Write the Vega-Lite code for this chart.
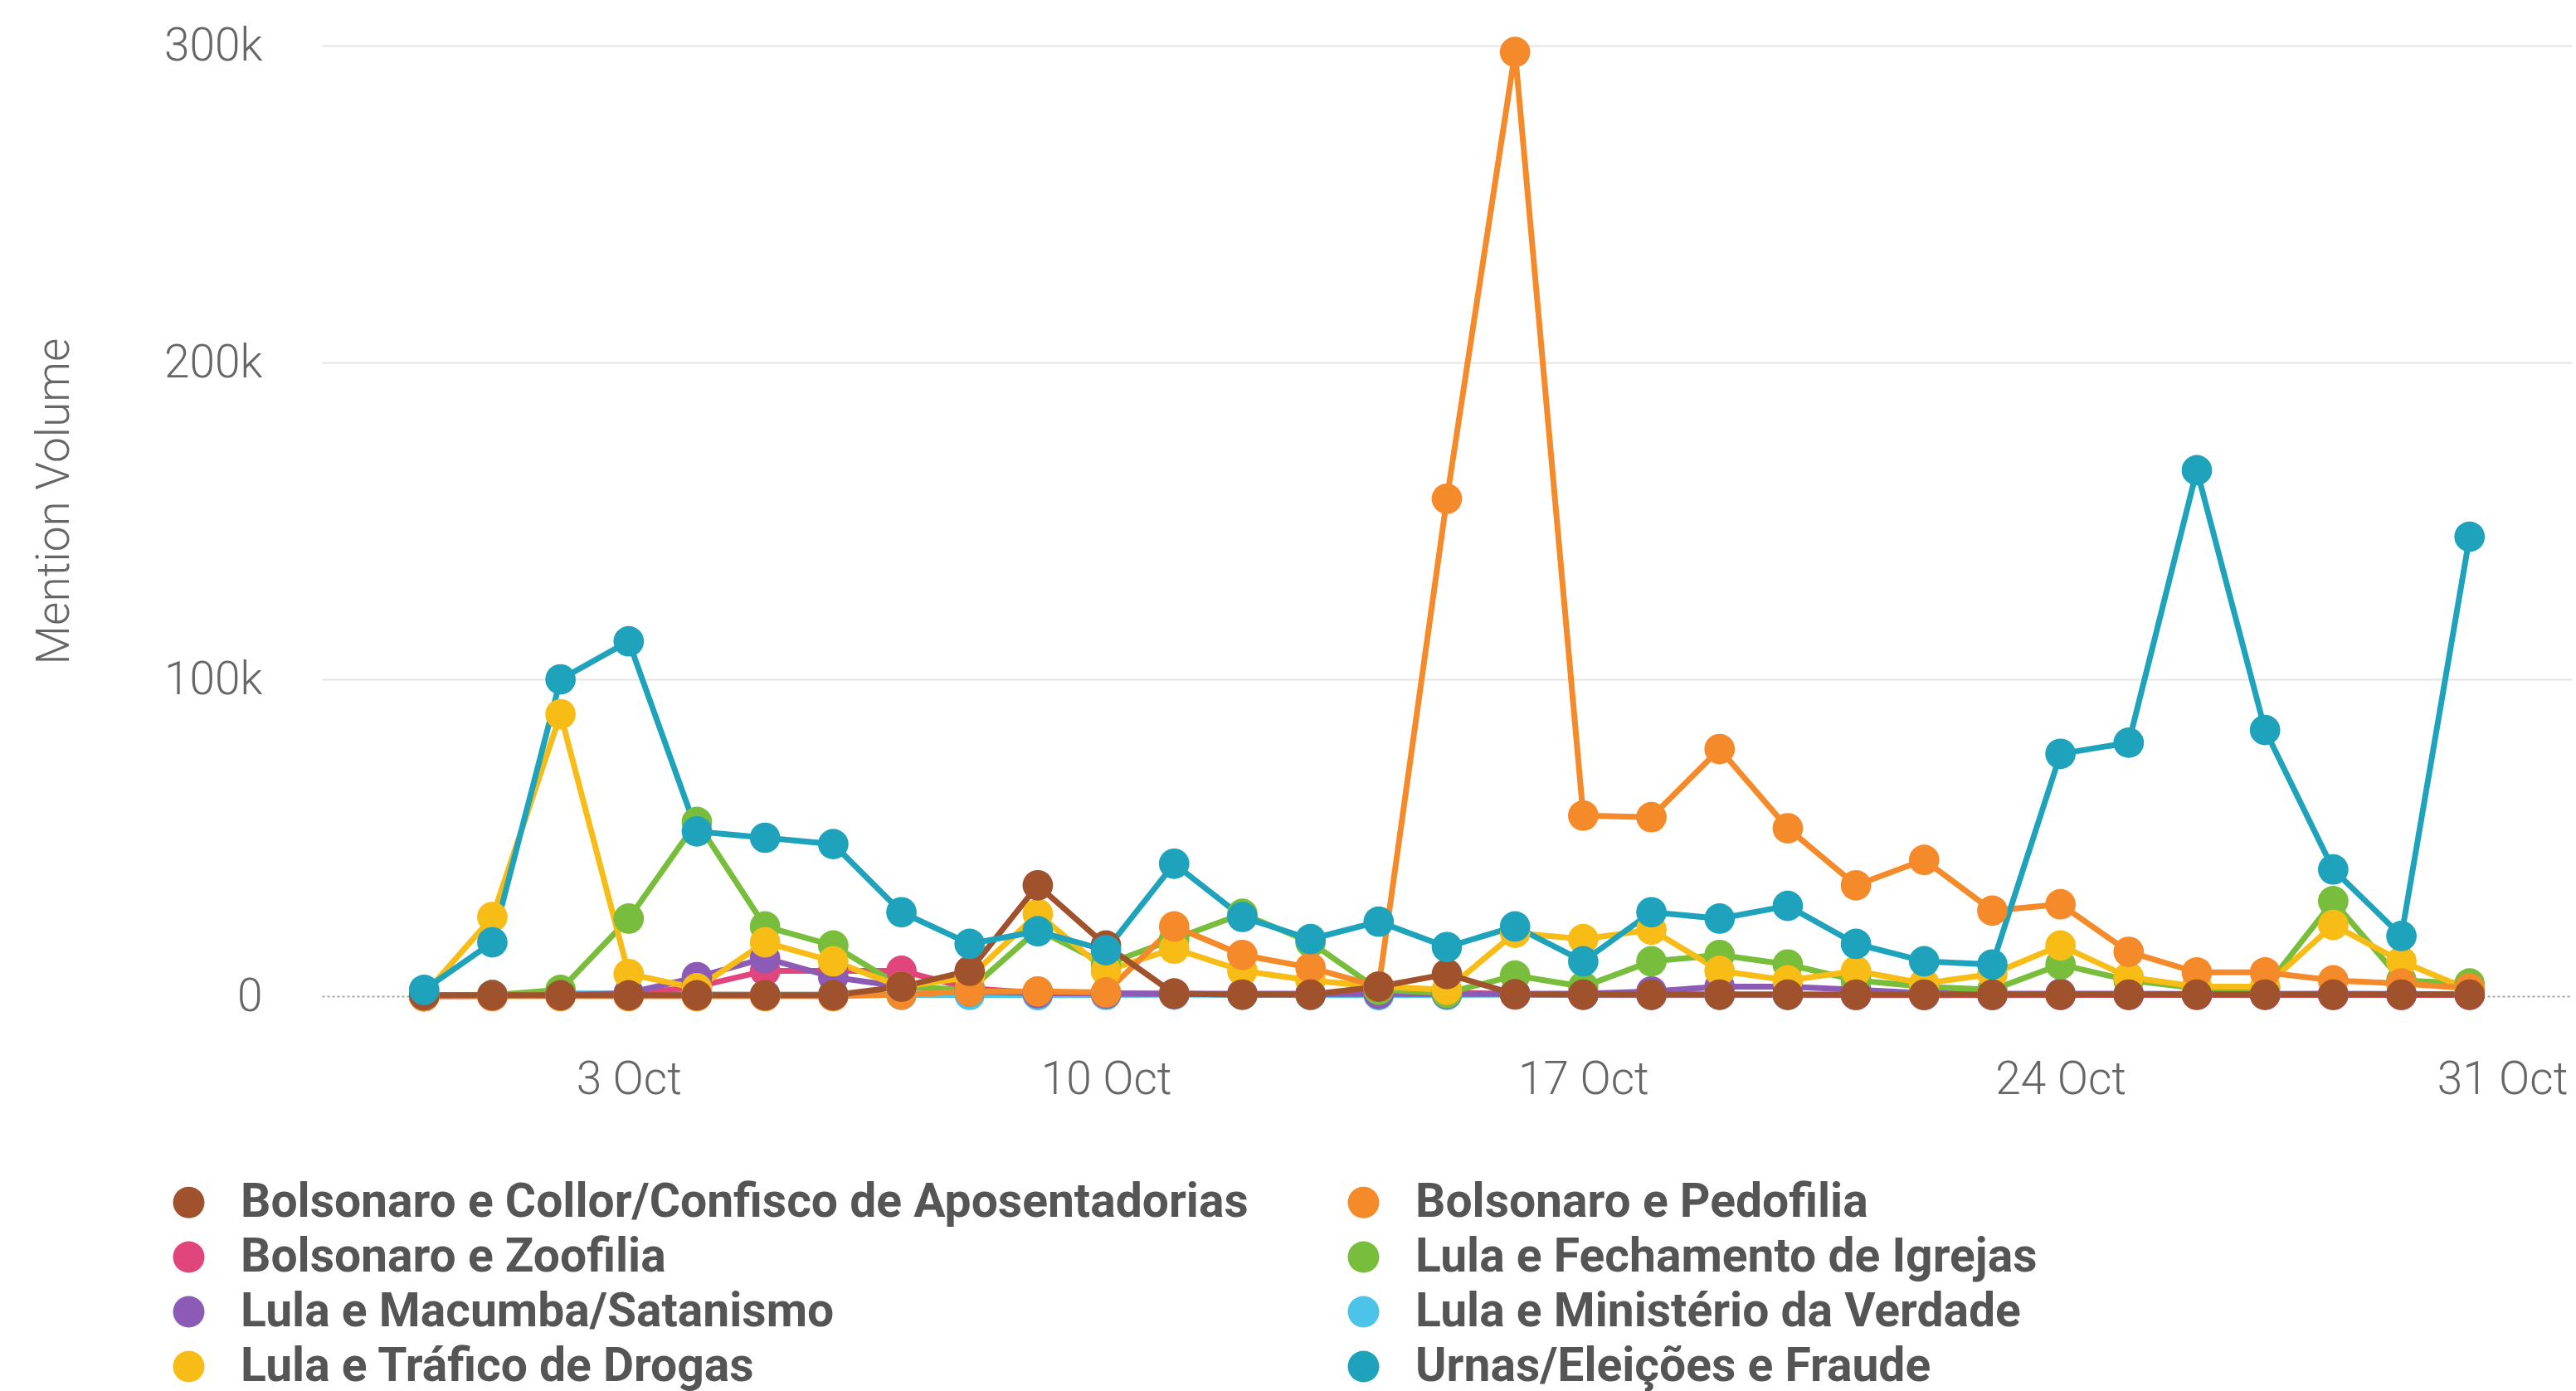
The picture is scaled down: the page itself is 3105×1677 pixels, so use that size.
{
 "$schema": "https://vega.github.io/schema/vega-lite/v6.json",
 "width": 2712,
 "height": 1146,
 "autosize": {"type": "none"},
 "padding": {"left": 388, "top": 55, "right": 5, "bottom": 476},
 "background": "white",
 "config": {"view": {"stroke": null}, "font": "Roboto"},
 "data": {"values": [
{"date":"2022-09-30","topic":"Lula e Ministério da Verdade","mentions":300},
{"date":"2022-10-01","topic":"Lula e Ministério da Verdade","mentions":400},
{"date":"2022-10-02","topic":"Lula e Ministério da Verdade","mentions":900},
{"date":"2022-10-03","topic":"Lula e Ministério da Verdade","mentions":800},
{"date":"2022-10-04","topic":"Lula e Ministério da Verdade","mentions":600},
{"date":"2022-10-05","topic":"Lula e Ministério da Verdade","mentions":500},
{"date":"2022-10-06","topic":"Lula e Ministério da Verdade","mentions":500},
{"date":"2022-10-07","topic":"Lula e Ministério da Verdade","mentions":400},
{"date":"2022-10-08","topic":"Lula e Ministério da Verdade","mentions":400},
{"date":"2022-10-09","topic":"Lula e Ministério da Verdade","mentions":300},
{"date":"2022-10-10","topic":"Lula e Ministério da Verdade","mentions":400},
{"date":"2022-10-11","topic":"Lula e Ministério da Verdade","mentions":500},
{"date":"2022-10-12","topic":"Lula e Ministério da Verdade","mentions":400},
{"date":"2022-10-13","topic":"Lula e Ministério da Verdade","mentions":300},
{"date":"2022-10-14","topic":"Lula e Ministério da Verdade","mentions":300},
{"date":"2022-10-15","topic":"Lula e Ministério da Verdade","mentions":400},
{"date":"2022-10-16","topic":"Lula e Ministério da Verdade","mentions":500},
{"date":"2022-10-17","topic":"Lula e Ministério da Verdade","mentions":400},
{"date":"2022-10-18","topic":"Lula e Ministério da Verdade","mentions":300},
{"date":"2022-10-19","topic":"Lula e Ministério da Verdade","mentions":400},
{"date":"2022-10-20","topic":"Lula e Ministério da Verdade","mentions":300},
{"date":"2022-10-21","topic":"Lula e Ministério da Verdade","mentions":300},
{"date":"2022-10-22","topic":"Lula e Ministério da Verdade","mentions":300},
{"date":"2022-10-23","topic":"Lula e Ministério da Verdade","mentions":300},
{"date":"2022-10-24","topic":"Lula e Ministério da Verdade","mentions":400},
{"date":"2022-10-25","topic":"Lula e Ministério da Verdade","mentions":400},
{"date":"2022-10-26","topic":"Lula e Ministério da Verdade","mentions":600},
{"date":"2022-10-27","topic":"Lula e Ministério da Verdade","mentions":500},
{"date":"2022-10-28","topic":"Lula e Ministério da Verdade","mentions":400},
{"date":"2022-10-29","topic":"Lula e Ministério da Verdade","mentions":400},
{"date":"2022-10-30","topic":"Lula e Ministério da Verdade","mentions":500},
{"date":"2022-09-30","topic":"Bolsonaro e Zoofilia","mentions":0},
{"date":"2022-10-01","topic":"Bolsonaro e Zoofilia","mentions":100},
{"date":"2022-10-02","topic":"Bolsonaro e Zoofilia","mentions":300},
{"date":"2022-10-03","topic":"Bolsonaro e Zoofilia","mentions":500},
{"date":"2022-10-04","topic":"Bolsonaro e Zoofilia","mentions":3000},
{"date":"2022-10-05","topic":"Bolsonaro e Zoofilia","mentions":8000},
{"date":"2022-10-06","topic":"Bolsonaro e Zoofilia","mentions":8000},
{"date":"2022-10-07","topic":"Bolsonaro e Zoofilia","mentions":8000},
{"date":"2022-10-08","topic":"Bolsonaro e Zoofilia","mentions":2500},
{"date":"2022-10-09","topic":"Bolsonaro e Zoofilia","mentions":1000},
{"date":"2022-10-10","topic":"Bolsonaro e Zoofilia","mentions":800},
{"date":"2022-10-11","topic":"Bolsonaro e Zoofilia","mentions":700},
{"date":"2022-10-12","topic":"Bolsonaro e Zoofilia","mentions":600},
{"date":"2022-10-13","topic":"Bolsonaro e Zoofilia","mentions":600},
{"date":"2022-10-14","topic":"Bolsonaro e Zoofilia","mentions":1000},
{"date":"2022-10-15","topic":"Bolsonaro e Zoofilia","mentions":1200},
{"date":"2022-10-16","topic":"Bolsonaro e Zoofilia","mentions":600},
{"date":"2022-10-17","topic":"Bolsonaro e Zoofilia","mentions":500},
{"date":"2022-10-18","topic":"Bolsonaro e Zoofilia","mentions":500},
{"date":"2022-10-19","topic":"Bolsonaro e Zoofilia","mentions":500},
{"date":"2022-10-20","topic":"Bolsonaro e Zoofilia","mentions":500},
{"date":"2022-10-21","topic":"Bolsonaro e Zoofilia","mentions":400},
{"date":"2022-10-22","topic":"Bolsonaro e Zoofilia","mentions":400},
{"date":"2022-10-23","topic":"Bolsonaro e Zoofilia","mentions":400},
{"date":"2022-10-24","topic":"Bolsonaro e Zoofilia","mentions":400},
{"date":"2022-10-25","topic":"Bolsonaro e Zoofilia","mentions":400},
{"date":"2022-10-26","topic":"Bolsonaro e Zoofilia","mentions":400},
{"date":"2022-10-27","topic":"Bolsonaro e Zoofilia","mentions":400},
{"date":"2022-10-28","topic":"Bolsonaro e Zoofilia","mentions":400},
{"date":"2022-10-29","topic":"Bolsonaro e Zoofilia","mentions":400},
{"date":"2022-10-30","topic":"Bolsonaro e Zoofilia","mentions":400},
{"date":"2022-09-30","topic":"Lula e Macumba/Satanismo","mentions":0},
{"date":"2022-10-01","topic":"Lula e Macumba/Satanismo","mentions":100},
{"date":"2022-10-02","topic":"Lula e Macumba/Satanismo","mentions":300},
{"date":"2022-10-03","topic":"Lula e Macumba/Satanismo","mentions":1000},
{"date":"2022-10-04","topic":"Lula e Macumba/Satanismo","mentions":6000},
{"date":"2022-10-05","topic":"Lula e Macumba/Satanismo","mentions":12000},
{"date":"2022-10-06","topic":"Lula e Macumba/Satanismo","mentions":6000},
{"date":"2022-10-07","topic":"Lula e Macumba/Satanismo","mentions":3000},
{"date":"2022-10-08","topic":"Lula e Macumba/Satanismo","mentions":1500},
{"date":"2022-10-09","topic":"Lula e Macumba/Satanismo","mentions":1000},
{"date":"2022-10-10","topic":"Lula e Macumba/Satanismo","mentions":900},
{"date":"2022-10-11","topic":"Lula e Macumba/Satanismo","mentions":800},
{"date":"2022-10-12","topic":"Lula e Macumba/Satanismo","mentions":800},
{"date":"2022-10-13","topic":"Lula e Macumba/Satanismo","mentions":800},
{"date":"2022-10-14","topic":"Lula e Macumba/Satanismo","mentions":700},
{"date":"2022-10-15","topic":"Lula e Macumba/Satanismo","mentions":700},
{"date":"2022-10-16","topic":"Lula e Macumba/Satanismo","mentions":800},
{"date":"2022-10-17","topic":"Lula e Macumba/Satanismo","mentions":800},
{"date":"2022-10-18","topic":"Lula e Macumba/Satanismo","mentions":1500},
{"date":"2022-10-19","topic":"Lula e Macumba/Satanismo","mentions":3000},
{"date":"2022-10-20","topic":"Lula e Macumba/Satanismo","mentions":3000},
{"date":"2022-10-21","topic":"Lula e Macumba/Satanismo","mentions":2000},
{"date":"2022-10-22","topic":"Lula e Macumba/Satanismo","mentions":1000},
{"date":"2022-10-23","topic":"Lula e Macumba/Satanismo","mentions":800},
{"date":"2022-10-24","topic":"Lula e Macumba/Satanismo","mentions":800},
{"date":"2022-10-25","topic":"Lula e Macumba/Satanismo","mentions":800},
{"date":"2022-10-26","topic":"Lula e Macumba/Satanismo","mentions":700},
{"date":"2022-10-27","topic":"Lula e Macumba/Satanismo","mentions":700},
{"date":"2022-10-28","topic":"Lula e Macumba/Satanismo","mentions":800},
{"date":"2022-10-29","topic":"Lula e Macumba/Satanismo","mentions":700},
{"date":"2022-10-30","topic":"Lula e Macumba/Satanismo","mentions":600},
{"date":"2022-09-30","topic":"Lula e Fechamento de Igrejas","mentions":0},
{"date":"2022-10-01","topic":"Lula e Fechamento de Igrejas","mentions":300},
{"date":"2022-10-02","topic":"Lula e Fechamento de Igrejas","mentions":2000},
{"date":"2022-10-03","topic":"Lula e Fechamento de Igrejas","mentions":24500},
{"date":"2022-10-04","topic":"Lula e Fechamento de Igrejas","mentions":55000},
{"date":"2022-10-05","topic":"Lula e Fechamento de Igrejas","mentions":22000},
{"date":"2022-10-06","topic":"Lula e Fechamento de Igrejas","mentions":16000},
{"date":"2022-10-07","topic":"Lula e Fechamento de Igrejas","mentions":3000},
{"date":"2022-10-08","topic":"Lula e Fechamento de Igrejas","mentions":2000},
{"date":"2022-10-09","topic":"Lula e Fechamento de Igrejas","mentions":21000},
{"date":"2022-10-10","topic":"Lula e Fechamento de Igrejas","mentions":10000},
{"date":"2022-10-11","topic":"Lula e Fechamento de Igrejas","mentions":18000},
{"date":"2022-10-12","topic":"Lula e Fechamento de Igrejas","mentions":26000},
{"date":"2022-10-13","topic":"Lula e Fechamento de Igrejas","mentions":17000},
{"date":"2022-10-14","topic":"Lula e Fechamento de Igrejas","mentions":2000},
{"date":"2022-10-15","topic":"Lula e Fechamento de Igrejas","mentions":1000},
{"date":"2022-10-16","topic":"Lula e Fechamento de Igrejas","mentions":6500},
{"date":"2022-10-17","topic":"Lula e Fechamento de Igrejas","mentions":3000},
{"date":"2022-10-18","topic":"Lula e Fechamento de Igrejas","mentions":11000},
{"date":"2022-10-19","topic":"Lula e Fechamento de Igrejas","mentions":13000},
{"date":"2022-10-20","topic":"Lula e Fechamento de Igrejas","mentions":10000},
{"date":"2022-10-21","topic":"Lula e Fechamento de Igrejas","mentions":5000},
{"date":"2022-10-22","topic":"Lula e Fechamento de Igrejas","mentions":3000},
{"date":"2022-10-23","topic":"Lula e Fechamento de Igrejas","mentions":2000},
{"date":"2022-10-24","topic":"Lula e Fechamento de Igrejas","mentions":10000},
{"date":"2022-10-25","topic":"Lula e Fechamento de Igrejas","mentions":5000},
{"date":"2022-10-26","topic":"Lula e Fechamento de Igrejas","mentions":2500},
{"date":"2022-10-27","topic":"Lula e Fechamento de Igrejas","mentions":2500},
{"date":"2022-10-28","topic":"Lula e Fechamento de Igrejas","mentions":30000},
{"date":"2022-10-29","topic":"Lula e Fechamento de Igrejas","mentions":5000},
{"date":"2022-10-30","topic":"Lula e Fechamento de Igrejas","mentions":4000},
{"date":"2022-09-30","topic":"Lula e Tráfico de Drogas","mentions":500},
{"date":"2022-10-01","topic":"Lula e Tráfico de Drogas","mentions":25000},
{"date":"2022-10-02","topic":"Lula e Tráfico de Drogas","mentions":89000},
{"date":"2022-10-03","topic":"Lula e Tráfico de Drogas","mentions":7000},
{"date":"2022-10-04","topic":"Lula e Tráfico de Drogas","mentions":2500},
{"date":"2022-10-05","topic":"Lula e Tráfico de Drogas","mentions":17000},
{"date":"2022-10-06","topic":"Lula e Tráfico de Drogas","mentions":11000},
{"date":"2022-10-07","topic":"Lula e Tráfico de Drogas","mentions":3000},
{"date":"2022-10-08","topic":"Lula e Tráfico de Drogas","mentions":6000},
{"date":"2022-10-09","topic":"Lula e Tráfico de Drogas","mentions":26000},
{"date":"2022-10-10","topic":"Lula e Tráfico de Drogas","mentions":8000},
{"date":"2022-10-11","topic":"Lula e Tráfico de Drogas","mentions":15000},
{"date":"2022-10-12","topic":"Lula e Tráfico de Drogas","mentions":8000},
{"date":"2022-10-13","topic":"Lula e Tráfico de Drogas","mentions":5000},
{"date":"2022-10-14","topic":"Lula e Tráfico de Drogas","mentions":3000},
{"date":"2022-10-15","topic":"Lula e Tráfico de Drogas","mentions":2000},
{"date":"2022-10-16","topic":"Lula e Tráfico de Drogas","mentions":20000},
{"date":"2022-10-17","topic":"Lula e Tráfico de Drogas","mentions":18000},
{"date":"2022-10-18","topic":"Lula e Tráfico de Drogas","mentions":21000},
{"date":"2022-10-19","topic":"Lula e Tráfico de Drogas","mentions":8000},
{"date":"2022-10-20","topic":"Lula e Tráfico de Drogas","mentions":5000},
{"date":"2022-10-21","topic":"Lula e Tráfico de Drogas","mentions":8000},
{"date":"2022-10-22","topic":"Lula e Tráfico de Drogas","mentions":4000},
{"date":"2022-10-23","topic":"Lula e Tráfico de Drogas","mentions":7000},
{"date":"2022-10-24","topic":"Lula e Tráfico de Drogas","mentions":16000},
{"date":"2022-10-25","topic":"Lula e Tráfico de Drogas","mentions":6000},
{"date":"2022-10-26","topic":"Lula e Tráfico de Drogas","mentions":3000},
{"date":"2022-10-27","topic":"Lula e Tráfico de Drogas","mentions":3000},
{"date":"2022-10-28","topic":"Lula e Tráfico de Drogas","mentions":22500},
{"date":"2022-10-29","topic":"Lula e Tráfico de Drogas","mentions":11000},
{"date":"2022-10-30","topic":"Lula e Tráfico de Drogas","mentions":2000},
{"date":"2022-09-30","topic":"Bolsonaro e Pedofilia","mentions":0},
{"date":"2022-10-01","topic":"Bolsonaro e Pedofilia","mentions":0},
{"date":"2022-10-02","topic":"Bolsonaro e Pedofilia","mentions":0},
{"date":"2022-10-03","topic":"Bolsonaro e Pedofilia","mentions":0},
{"date":"2022-10-04","topic":"Bolsonaro e Pedofilia","mentions":0},
{"date":"2022-10-05","topic":"Bolsonaro e Pedofilia","mentions":0},
{"date":"2022-10-06","topic":"Bolsonaro e Pedofilia","mentions":0},
{"date":"2022-10-07","topic":"Bolsonaro e Pedofilia","mentions":500},
{"date":"2022-10-08","topic":"Bolsonaro e Pedofilia","mentions":1500},
{"date":"2022-10-09","topic":"Bolsonaro e Pedofilia","mentions":1500},
{"date":"2022-10-10","topic":"Bolsonaro e Pedofilia","mentions":1200},
{"date":"2022-10-11","topic":"Bolsonaro e Pedofilia","mentions":22000},
{"date":"2022-10-12","topic":"Bolsonaro e Pedofilia","mentions":13000},
{"date":"2022-10-13","topic":"Bolsonaro e Pedofilia","mentions":9000},
{"date":"2022-10-14","topic":"Bolsonaro e Pedofilia","mentions":3000},
{"date":"2022-10-15","topic":"Bolsonaro e Pedofilia","mentions":157000},
{"date":"2022-10-16","topic":"Bolsonaro e Pedofilia","mentions":298000},
{"date":"2022-10-17","topic":"Bolsonaro e Pedofilia","mentions":57000},
{"date":"2022-10-18","topic":"Bolsonaro e Pedofilia","mentions":56500},
{"date":"2022-10-19","topic":"Bolsonaro e Pedofilia","mentions":78000},
{"date":"2022-10-20","topic":"Bolsonaro e Pedofilia","mentions":53000},
{"date":"2022-10-21","topic":"Bolsonaro e Pedofilia","mentions":35000},
{"date":"2022-10-22","topic":"Bolsonaro e Pedofilia","mentions":43000},
{"date":"2022-10-23","topic":"Bolsonaro e Pedofilia","mentions":27000},
{"date":"2022-10-24","topic":"Bolsonaro e Pedofilia","mentions":29000},
{"date":"2022-10-25","topic":"Bolsonaro e Pedofilia","mentions":14000},
{"date":"2022-10-26","topic":"Bolsonaro e Pedofilia","mentions":7500},
{"date":"2022-10-27","topic":"Bolsonaro e Pedofilia","mentions":7500},
{"date":"2022-10-28","topic":"Bolsonaro e Pedofilia","mentions":5000},
{"date":"2022-10-29","topic":"Bolsonaro e Pedofilia","mentions":4000},
{"date":"2022-10-30","topic":"Bolsonaro e Pedofilia","mentions":2500},
{"date":"2022-09-30","topic":"Bolsonaro e Collor/Confisco de Aposentadorias","mentions":300},
{"date":"2022-10-01","topic":"Bolsonaro e Collor/Confisco de Aposentadorias","mentions":300},
{"date":"2022-10-02","topic":"Bolsonaro e Collor/Confisco de Aposentadorias","mentions":300},
{"date":"2022-10-03","topic":"Bolsonaro e Collor/Confisco de Aposentadorias","mentions":300},
{"date":"2022-10-04","topic":"Bolsonaro e Collor/Confisco de Aposentadorias","mentions":300},
{"date":"2022-10-05","topic":"Bolsonaro e Collor/Confisco de Aposentadorias","mentions":300},
{"date":"2022-10-06","topic":"Bolsonaro e Collor/Confisco de Aposentadorias","mentions":300},
{"date":"2022-10-07","topic":"Bolsonaro e Collor/Confisco de Aposentadorias","mentions":3000},
{"date":"2022-10-08","topic":"Bolsonaro e Collor/Confisco de Aposentadorias","mentions":8000},
{"date":"2022-10-09","topic":"Bolsonaro e Collor/Confisco de Aposentadorias","mentions":35000},
{"date":"2022-10-10","topic":"Bolsonaro e Collor/Confisco de Aposentadorias","mentions":16000},
{"date":"2022-10-11","topic":"Bolsonaro e Collor/Confisco de Aposentadorias","mentions":800},
{"date":"2022-10-12","topic":"Bolsonaro e Collor/Confisco de Aposentadorias","mentions":500},
{"date":"2022-10-13","topic":"Bolsonaro e Collor/Confisco de Aposentadorias","mentions":500},
{"date":"2022-10-14","topic":"Bolsonaro e Collor/Confisco de Aposentadorias","mentions":3000},
{"date":"2022-10-15","topic":"Bolsonaro e Collor/Confisco de Aposentadorias","mentions":7000},
{"date":"2022-10-16","topic":"Bolsonaro e Collor/Confisco de Aposentadorias","mentions":600},
{"date":"2022-10-17","topic":"Bolsonaro e Collor/Confisco de Aposentadorias","mentions":500},
{"date":"2022-10-18","topic":"Bolsonaro e Collor/Confisco de Aposentadorias","mentions":500},
{"date":"2022-10-19","topic":"Bolsonaro e Collor/Confisco de Aposentadorias","mentions":500},
{"date":"2022-10-20","topic":"Bolsonaro e Collor/Confisco de Aposentadorias","mentions":500},
{"date":"2022-10-21","topic":"Bolsonaro e Collor/Confisco de Aposentadorias","mentions":500},
{"date":"2022-10-22","topic":"Bolsonaro e Collor/Confisco de Aposentadorias","mentions":500},
{"date":"2022-10-23","topic":"Bolsonaro e Collor/Confisco de Aposentadorias","mentions":500},
{"date":"2022-10-24","topic":"Bolsonaro e Collor/Confisco de Aposentadorias","mentions":500},
{"date":"2022-10-25","topic":"Bolsonaro e Collor/Confisco de Aposentadorias","mentions":500},
{"date":"2022-10-26","topic":"Bolsonaro e Collor/Confisco de Aposentadorias","mentions":500},
{"date":"2022-10-27","topic":"Bolsonaro e Collor/Confisco de Aposentadorias","mentions":500},
{"date":"2022-10-28","topic":"Bolsonaro e Collor/Confisco de Aposentadorias","mentions":500},
{"date":"2022-10-29","topic":"Bolsonaro e Collor/Confisco de Aposentadorias","mentions":500},
{"date":"2022-10-30","topic":"Bolsonaro e Collor/Confisco de Aposentadorias","mentions":500},
{"date":"2022-09-30","topic":"Urnas/Eleições e Fraude","mentions":2000},
{"date":"2022-10-01","topic":"Urnas/Eleições e Fraude","mentions":17000},
{"date":"2022-10-02","topic":"Urnas/Eleições e Fraude","mentions":100000},
{"date":"2022-10-03","topic":"Urnas/Eleições e Fraude","mentions":112000},
{"date":"2022-10-04","topic":"Urnas/Eleições e Fraude","mentions":52000},
{"date":"2022-10-05","topic":"Urnas/Eleições e Fraude","mentions":50000},
{"date":"2022-10-06","topic":"Urnas/Eleições e Fraude","mentions":48000},
{"date":"2022-10-07","topic":"Urnas/Eleições e Fraude","mentions":26500},
{"date":"2022-10-08","topic":"Urnas/Eleições e Fraude","mentions":16500},
{"date":"2022-10-09","topic":"Urnas/Eleições e Fraude","mentions":20500},
{"date":"2022-10-10","topic":"Urnas/Eleições e Fraude","mentions":14500},
{"date":"2022-10-11","topic":"Urnas/Eleições e Fraude","mentions":41800},
{"date":"2022-10-12","topic":"Urnas/Eleições e Fraude","mentions":25000},
{"date":"2022-10-13","topic":"Urnas/Eleições e Fraude","mentions":18000},
{"date":"2022-10-14","topic":"Urnas/Eleições e Fraude","mentions":23500},
{"date":"2022-10-15","topic":"Urnas/Eleições e Fraude","mentions":15500},
{"date":"2022-10-16","topic":"Urnas/Eleições e Fraude","mentions":22000},
{"date":"2022-10-17","topic":"Urnas/Eleições e Fraude","mentions":11000},
{"date":"2022-10-18","topic":"Urnas/Eleições e Fraude","mentions":26500},
{"date":"2022-10-19","topic":"Urnas/Eleições e Fraude","mentions":24500},
{"date":"2022-10-20","topic":"Urnas/Eleições e Fraude","mentions":28500},
{"date":"2022-10-21","topic":"Urnas/Eleições e Fraude","mentions":16500},
{"date":"2022-10-22","topic":"Urnas/Eleições e Fraude","mentions":11000},
{"date":"2022-10-23","topic":"Urnas/Eleições e Fraude","mentions":10000},
{"date":"2022-10-24","topic":"Urnas/Eleições e Fraude","mentions":76500},
{"date":"2022-10-25","topic":"Urnas/Eleições e Fraude","mentions":80000},
{"date":"2022-10-26","topic":"Urnas/Eleições e Fraude","mentions":166000},
{"date":"2022-10-27","topic":"Urnas/Eleições e Fraude","mentions":84000},
{"date":"2022-10-28","topic":"Urnas/Eleições e Fraude","mentions":40000},
{"date":"2022-10-29","topic":"Urnas/Eleições e Fraude","mentions":19000},
{"date":"2022-10-30","topic":"Urnas/Eleições e Fraude","mentions":145000}
 ]},
 "mark": {"type": "line", "strokeWidth": 7, "point": {"filled": true, "size": 1350, "opacity": 1}},
 "encoding": {
  "x": {
   "field": "date", "type": "temporal",
   "scale": {"type": "utc", "domain": [
     {"year": 2022, "month": 9, "date": 28, "hours": 12, "utc": true},
     {"year": 2022, "month": 10, "date": 31, "hours": 12, "utc": true}]},
   "axis": {
    "title": null, "grid": false, "domain": false, "ticks": false, "tickSize": 0,
    "values": [
     {"year": 2022, "month": 10, "date": 3, "utc": true},
     {"year": 2022, "month": 10, "date": 10, "utc": true},
     {"year": 2022, "month": 10, "date": 17, "utc": true},
     {"year": 2022, "month": 10, "date": 24, "utc": true},
     {"year": 2022, "month": 10, "date": 31, "utc": true}],
    "format": "%-d %b",
    "labelFont": "Roboto", "labelFontSize": 55, "labelFontWeight": 300, "labelColor": "#666666",
    "labelPadding": 74, "labelOverlap": false, "labelFlush": 50, "labelFlushOffset": 36
   }
  },
  "y": {
   "field": "mentions", "type": "quantitative",
   "scale": {"domain": [0, 300000], "nice": false},
   "axis": {
    "title": "Mention Volume", "values": [0, 100000, 200000, 300000],
    "labelExpr": "datum.value === 0 ? '0' : (datum.value / 1000) + 'k'",
    "domain": false, "ticks": false, "tickSize": 0,
    "labelFont": "Roboto", "labelFontSize": 55, "labelFontWeight": 300, "labelColor": "#666666", "labelPadding": 72,
    "titleFont": "Roboto", "titleFontSize": 55, "titleFontWeight": 300, "titleColor": "#666666",
    "titleX": -323, "titleY": 549, "titleAngle": -90, "titleAlign": "center", "titleBaseline": "middle",
    "grid": true, "gridWidth": 2,
    "gridColor": {"condition": {"test": "datum.value === 0", "value": "#a8a8a8"}, "value": "#e3e3e3"},
    "gridDash": {"condition": {"test": "datum.value === 0", "value": [3, 3]}, "value": []}
   }
  },
  "color": {
   "field": "topic", "type": "nominal",
   "scale": {
    "domain": ["Bolsonaro e Collor/Confisco de Aposentadorias", "Bolsonaro e Zoofilia", "Lula e Macumba/Satanismo", "Lula e Tráfico de Drogas", "Bolsonaro e Pedofilia", "Lula e Fechamento de Igrejas", "Lula e Ministério da Verdade", "Urnas/Eleições e Fraude"],
    "range": ["#A0522D", "#E0457B", "#8C5BB6", "#F8BC16", "#F58A2B", "#78BE3C", "#4CC3E8", "#1FA3BD"]
   },
   "legend": {
    "orient": "none", "legendX": -189, "legendY": 1366, "direction": "vertical", "columns": 2,
    "title": null, "padding": 0, "symbolType": "circle", "symbolSize": 1444, "symbolStrokeWidth": 0,
    "labelFont": "Roboto", "labelFontSize": 57, "labelFontWeight": "bold", "labelColor": "#555555",
    "labelLimit": 0, "labelOffset": 34, "rowPadding": 8, "columnPadding": 110,
    "encode": {"symbols": {"update": {"fill": {"scale": "color", "field": "value"}, "opacity": {"value": 1}}}}
   }
  }
 }
}
